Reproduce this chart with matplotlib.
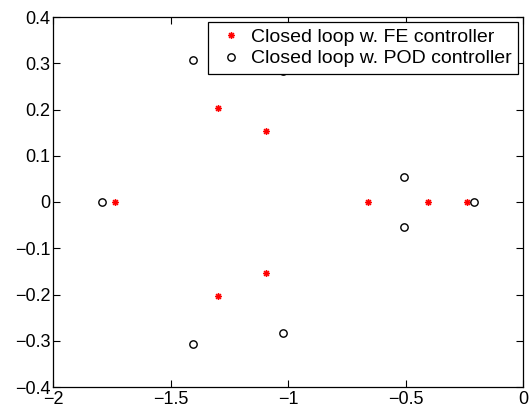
import matplotlib
matplotlib.use("Agg")
import matplotlib.pyplot as plt
from matplotlib.path import Path
import numpy as np

fe_re = [-1.735, -1.30, -1.30, -1.094, -1.094, -0.658, -0.406, -0.24]
fe_im = [0.0, 0.204, -0.204, 0.154, -0.154, 0.0, 0.0, 0.0]
pod_re = [-1.79, -1.404, -1.404, -1.02, -1.02, -0.508, -0.508, -0.21]
pod_im = [0.0, 0.306, -0.306, 0.283, -0.283, 0.055, -0.055, 0.0]

xticks = [-2, -1.5, -1, -0.5, 0]
yticks = [-0.4, -0.3, -0.2, -0.1, 0, 0.1, 0.2, 0.3, 0.4]

plt.rcParams['font.family'] = ['Liberation Sans', 'DejaVu Sans']

# MATLAB-like asterisk marker (8 arms)
d = np.sqrt(0.5)
verts = [(-1, 0), (1, 0), (0, -1), (0, 1), (-d, -d), (d, d), (-d, d), (d, -d)]
codes = [Path.MOVETO, Path.LINETO] * 4
asterisk = Path(verts, codes)

fig = plt.figure(figsize=(5.29, 4.09), dpi=100)
ax = fig.add_axes([53/529, 1 - 387/409, (523-53)/529, (387-17)/409])

ax.plot(fe_re, fe_im, linestyle='none', marker=asterisk, color='red', markersize=5,
        markeredgewidth=1.1, label='Closed loop w. FE controller')
ax.plot(pod_re, pod_im, linestyle='none', marker='o', markerfacecolor='none',
        markeredgecolor='black', markersize=5.3, markeredgewidth=1.0,
        label='Closed loop w. POD controller')

ax.set_xlim(-2, 0)
ax.set_ylim(-0.4, 0.4)
ax.set_xticks(xticks)
ax.set_xticklabels(['\u22122', '\u22121.5', '\u22121', '\u22120.5', '0'])
ax.set_yticks(yticks)
ax.set_yticklabels(['\u22120.4', '\u22120.3', '\u22120.2', '\u22120.1', '0', '0.1', '0.2', '0.3', '0.4'])
ax.tick_params(direction='in', top=True, right=True, length=5, width=0.8, labelsize=13, pad=2)
ax.tick_params(axis='x', pad=3)
for s in ax.spines.values():
    s.set_linewidth(0.9)

leg = ax.legend(loc='upper right', bbox_to_anchor=(0.989, 0.9865), fontsize=14, frameon=True,
                fancybox=False, edgecolor='black', framealpha=1, borderpad=0.32,
                handlelength=1.8, handletextpad=0.1, labelspacing=0.2, borderaxespad=0)
leg.get_frame().set_linewidth(0.9)

fig.savefig('out.png', dpi=100)
